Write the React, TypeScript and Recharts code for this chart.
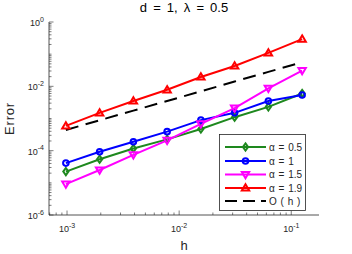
import React from 'react';
import { LineChart, Line, XAxis, YAxis, Legend } from 'recharts';

// ---- data ----
const hValues = [1 / 1024, 1 / 512, 1 / 256, 1 / 128, 1 / 64, 1 / 32, 1 / 16, 1 / 8];
const errAlpha05 = [2.24e-5, 5.4e-5, 1.17e-4, 2.24e-4, 4.7e-4, 1.1e-3, 2.3e-3, 6.0e-3];
const errAlpha1 = [4.1e-5, 9.3e-5, 1.9e-4, 3.9e-4, 8.9e-4, 1.5e-3, 3.5e-3, 5.4e-3];
const errAlpha15 = [9.1e-6, 2.5e-5, 7.4e-5, 2.1e-4, 6.8e-4, 2.1e-3, 8.7e-3, 0.031];
const errAlpha19 = [5.9e-4, 1.5e-3, 3.5e-3, 7.8e-3, 0.0195, 0.043, 0.11, 0.295];
const refOrderH = [4.4e-4, 8.8e-4, 1.76e-3, 3.5e-3, 7.0e-3, 0.0141, 0.0281, 0.0563];

const seriesNames = ['α = 0.5', 'α = 1', 'α = 1.5', 'α = 1.9', 'O ( h )'];
const seriesKeys = ['a05', 'a1', 'a15', 'a19', 'oh'];
const drawOrder = [4, 0, 1, 2, 3];

const xMajorTicks = [1e-3, 1e-2, 1e-1];
const yMajorTicks = [1e-6, 1e-4, 1e-2, 1];
const xDomain = [Math.pow(2, -10.5), Math.pow(2, -2.5)];
const yDomain = [1e-6, 1];

const xMinorTicks = [
  7e-4, 8e-4, 9e-4,
  2e-3, 3e-3, 4e-3, 5e-3, 6e-3, 7e-3, 8e-3, 9e-3,
  2e-2, 3e-2, 4e-2, 5e-2, 6e-2, 7e-2, 8e-2, 9e-2,
];
const yMinorTicks = [
  2e-6, 3e-6, 4e-6, 5e-6, 6e-6, 7e-6, 8e-6, 9e-6,
  1e-5, 2e-5, 3e-5, 4e-5, 5e-5, 6e-5, 7e-5, 8e-5, 9e-5,
  2e-4, 3e-4, 4e-4, 5e-4, 6e-4, 7e-4, 8e-4, 9e-4,
  1e-3, 2e-3, 3e-3, 4e-3, 5e-3, 6e-3, 7e-3, 8e-3, 9e-3,
  2e-2, 3e-2, 4e-2, 5e-2, 6e-2, 7e-2, 8e-2, 9e-2,
  1e-1, 2e-1, 3e-1, 4e-1, 5e-1, 6e-1, 7e-1, 8e-1, 9e-1,
];

const data = hValues.map((h, i) => ({
  h,
  a05: errAlpha05[i],
  a1: errAlpha1[i],
  a15: errAlpha15[i],
  a19: errAlpha19[i],
  oh: refOrderH[i],
}));

// ---- styles ----
const colors = ['#1e881e', '#0000ff', '#ff00ff', '#ff0000', '#000000'];
const markers = ['diamond', 'circle', 'triDown', 'triUp', 'none'];
const axisColor = '#262626';
const font = '"Liberation Sans", Arial, Helvetica, sans-serif';
const dashPattern = '13 7.5';

function Marker({ shape, cx, cy, color }: any) {
  if (cx == null || cy == null || shape === 'none') return null;
  const sw = 2;
  if (shape === 'circle') {
    return <circle cx={cx} cy={cy} r={2.8} fill="none" stroke={color} strokeWidth={sw} />;
  }
  let pts = '';
  if (shape === 'diamond') {
    pts = `${cx},${cy - 3.6} ${cx + 2.6},${cy} ${cx},${cy + 3.6} ${cx - 2.6},${cy}`;
  } else if (shape === 'triUp') {
    pts = `${cx},${cy - 3.7} ${cx + 3.7},${cy + 2.6} ${cx - 3.7},${cy + 2.6}`;
  } else if (shape === 'triDown') {
    pts = `${cx},${cy + 3.7} ${cx + 3.7},${cy - 2.6} ${cx - 3.7},${cy - 2.6}`;
  }
  return <polygon points={pts} fill="none" stroke={color} strokeWidth={sw} strokeLinejoin="miter" />;
}

function expLabel(v: number) {
  return String(Math.round(Math.log10(v)));
}

function BottomTick(props: any) {
  const { x, y, payload } = props;
  const v = payload.value;
  const major = xMajorTicks.includes(v);
  return (
    <g>
      <line x1={x} x2={x} y1={y} y2={y - (major ? 4.5 : 2.5)} stroke={axisColor} strokeWidth={0.6} />
      {major && (
        <text x={x} y={y + 17} textAnchor="middle" fontSize={9} fill={axisColor} fontFamily={font}>
          10<tspan dy={-4.5} fontSize={7}>{expLabel(v)}</tspan>
        </text>
      )}
    </g>
  );
}

function TopTick(props: any) {
  const { x, y, payload } = props;
  const major = xMajorTicks.includes(payload.value);
  return <line x1={x} x2={x} y1={y} y2={y + (major ? 4.5 : 2.5)} stroke={axisColor} strokeWidth={0.6} />;
}

function LeftTick(props: any) {
  const { x, y, payload } = props;
  const v = payload.value;
  const major = yMajorTicks.includes(v);
  return (
    <g>
      <line x1={x} x2={x + (major ? 4.5 : 2.5)} y1={y} y2={y} stroke={axisColor} strokeWidth={0.6} />
      {major && (
        <text x={x - 5} y={y + 4} textAnchor="end" fontSize={9} fill={axisColor} fontFamily={font}>
          10<tspan dy={-4.5} fontSize={7}>{expLabel(v)}</tspan>
        </text>
      )}
    </g>
  );
}

function RightTick(props: any) {
  const { x, y, payload } = props;
  const major = yMajorTicks.includes(payload.value);
  return <line x1={x} x2={x - (major ? 4.5 : 2.5)} y1={y} y2={y} stroke={axisColor} strokeWidth={0.6} />;
}

function LegendBox() {
  const rowY = [13, 27, 40.5, 54, 67];
  return (
    <svg width={87} height={77} style={{ display: 'block' }}>
      <rect x={0.5} y={0.5} width={86} height={76} fill="#ffffff" stroke={axisColor} strokeWidth={0.8} />
      {seriesNames.map((name, i) => (
        <g key={name}>
          <line
            x1={6}
            x2={47}
            y1={rowY[i]}
            y2={rowY[i]}
            stroke={colors[i]}
            strokeWidth={2}
            strokeDasharray={i === 4 ? '12 6' : undefined}
          />
          <Marker shape={markers[i]} cx={26.5} cy={rowY[i]} color={colors[i]} />
          <text x={50} y={rowY[i] + 3.5} fontSize={10} fill={axisColor} fontFamily={font} style={{ wordSpacing: '1px' }}>
            {name}
          </text>
        </g>
      ))}
    </svg>
  );
}

export default function App() {
  return (
    <div style={{ position: 'absolute', left: 0, top: 0, width: 352, height: 254, background: '#ffffff', fontFamily: font }}>
      <LineChart width={352} height={254} data={data} margin={{ top: 22, right: 33, bottom: 0, left: 0 }}>
        <XAxis
          xAxisId="b"
          dataKey="h"
          type="number"
          scale="log"
          domain={xDomain}
          allowDataOverflow
          ticks={[...xMinorTicks, ...xMajorTicks]}
          interval={0}
          tickSize={0}
          tickMargin={0}
          tickLine={false}
          tick={(p: any) => <BottomTick {...p} />}
          height={39}
          axisLine={{ stroke: axisColor, strokeWidth: 0.8 }}
        />
        <XAxis
          xAxisId="t"
          orientation="top"
          dataKey="h"
          type="number"
          scale="log"
          domain={xDomain}
          allowDataOverflow
          ticks={[...xMinorTicks, ...xMajorTicks]}
          interval={0}
          tickSize={0}
          tickMargin={0}
          tickLine={false}
          tick={(p: any) => <TopTick {...p} />}
          height={0}
          axisLine={{ stroke: axisColor, strokeWidth: 0.8 }}
        />
        <YAxis
          yAxisId="l"
          type="number"
          scale="log"
          domain={yDomain}
          allowDataOverflow
          ticks={[...yMinorTicks, ...yMajorTicks]}
          interval={0}
          tickSize={0}
          tickMargin={0}
          tickLine={false}
          tick={(p: any) => <LeftTick {...p} />}
          width={49}
          axisLine={{ stroke: axisColor, strokeWidth: 0.8 }}
        />
        <YAxis
          yAxisId="r"
          orientation="right"
          type="number"
          scale="log"
          domain={yDomain}
          allowDataOverflow
          ticks={[...yMinorTicks, ...yMajorTicks]}
          interval={0}
          tickSize={0}
          tickMargin={0}
          tickLine={false}
          tick={(p: any) => <RightTick {...p} />}
          width={0}
          axisLine={{ stroke: axisColor, strokeWidth: 0.8 }}
        />
        {drawOrder.map((i) => {
          const k = seriesKeys[i];
          return (
            <Line
              key={k}
              xAxisId="b"
              yAxisId="l"
              dataKey={k}
              name={seriesNames[i]}
              type="linear"
              stroke={colors[i]}
              strokeWidth={2}
              strokeDasharray={i === 4 ? dashPattern : undefined}
              isAnimationActive={false}
              activeDot={false}
              dot={
                i === 4
                  ? false
                  : (p: any) => <Marker key={`${k}-${p.index}`} shape={markers[i]} cx={p.cx} cy={p.cy} color={colors[i]} />
              }
            />
          );
        })}
        <Legend
          layout="vertical"
          align="center"
          verticalAlign="middle"
          wrapperStyle={{ left: 219, top: 134, width: 87, height: 77 }}
          content={() => <LegendBox />}
        />
      </LineChart>
      <div style={{ position: 'absolute', left: 0, top: 0, width: 368, textAlign: 'center', fontSize: 13, lineHeight: '15px', wordSpacing: '2.5px', color: '#000', pointerEvents: 'none' }}>
        d = 1, λ = 0.5
      </div>
      <div style={{ position: 'absolute', left: 0, top: 238, width: 368, textAlign: 'center', fontSize: 13, lineHeight: '15px', color: '#262626', pointerEvents: 'none' }}>
        h
      </div>
      <div style={{ position: 'absolute', left: -21, top: 110.5, width: 60, height: 15, textAlign: 'center', fontSize: 13, lineHeight: '15px', letterSpacing: '0.8px', color: '#262626', transform: 'rotate(-90deg)', pointerEvents: 'none' }}>
        Error
      </div>
    </div>
  );
}
